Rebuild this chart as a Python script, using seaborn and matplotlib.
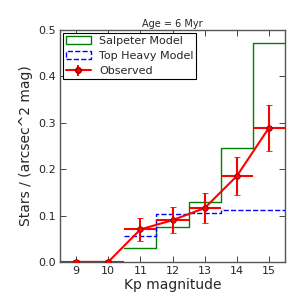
import numpy as np
import pandas as pd
import matplotlib
matplotlib.use("Agg")
import matplotlib.pyplot as plt
import seaborn as sns
from matplotlib.patches import Patch

bin_centers = [11, 12, 13, 14, 15]
bin_edges = [10.5, 11.5, 12.5, 13.5, 14.5, 15.5]
salpeter = [0.031, 0.076, 0.129, 0.246, 0.473]
top_heavy = [0.056, 0.104, 0.105, 0.111, 0.112]

obs_mag = [9, 10, 11, 12, 13, 14, 15]
obs_val = [0.0, 0.0, 0.070, 0.090, 0.116, 0.185, 0.289]
obs_err = [0.004, 0.004, 0.025, 0.028, 0.032, 0.041, 0.050]
obs_xerr = [0.5] * 7

sns.set_style("ticks")
plt.rcParams['font.family'] = ['DejaVu Sans']
plt.rcParams['xtick.direction'] = 'in'
plt.rcParams['ytick.direction'] = 'in'

fig = plt.figure(figsize=(3, 3), dpi=100)
ax = fig.add_axes([0.2, 0.127, 0.75, 0.773])

df = pd.DataFrame({"mag": bin_centers, "sal": salpeter, "th": top_heavy})
sns.histplot(data=df, x="mag", weights="sal", bins=bin_edges, element="step",
             fill=False, color="green", linewidth=1.0, ax=ax)
sns.histplot(data=df, x="mag", weights="th", bins=bin_edges, element="step",
             fill=False, color="blue", linewidth=1.0, linestyle="--", ax=ax)

# x error bars without caps
ax.errorbar(obs_mag, obs_val, xerr=obs_xerr, color="red", linestyle="none",
            elinewidth=1.5, capsize=0, zorder=4)
# line, markers and y error bars with caps
ax.errorbar(obs_mag, obs_val, yerr=obs_err, color="red",
            marker="o", markersize=4, markeredgecolor="darkred",
            markeredgewidth=0.6, linewidth=1.5, elinewidth=1.5, capsize=2,
            zorder=5)

ax.set_xlim(8.5, 15.5)
ax.set_ylim(0, 0.5)
ax.set_xticks(range(9, 16))
ax.set_yticks([0.0, 0.1, 0.2, 0.3, 0.4, 0.5])
ax.set_yticklabels(["0.0", "0.1", "0.2", "0.3", "0.4", "0.5"])
ax.tick_params(labelsize=8, top=True, right=True, length=4, width=0.6, pad=3)
for s in ax.spines.values():
    s.set_linewidth(1.0)
    s.set_color("#555555")
ax.set_xlabel("Kp magnitude", fontsize=10, labelpad=1.5)
ax.set_ylabel("Stars / (arcsec^2 mag)", fontsize=10, labelpad=3.5)
ax.set_title("Age = 6 Myr", fontsize=7, pad=2)

handles = [
    Patch(facecolor="white", edgecolor="green", linewidth=1.0),
    Patch(facecolor="white", edgecolor="blue", linewidth=1.0, linestyle="--"),
    ax.errorbar([], [], yerr=[], xerr=[], color="red", marker="o",
                markersize=4, markeredgecolor="darkred", linewidth=1.5,
                capsize=2),
]
leg = ax.legend(handles, ["Salpeter Model", "Top Heavy Model", "Observed"],
                loc="upper left", fontsize=8, fancybox=False, framealpha=1,
                borderaxespad=0.3, handlelength=2.2, handletextpad=0.75,
                borderpad=0.25, labelspacing=0.45)
leg.get_frame().set_edgecolor("black")
leg.get_frame().set_linewidth(0.8)

fig.savefig("out.png", dpi=100)
